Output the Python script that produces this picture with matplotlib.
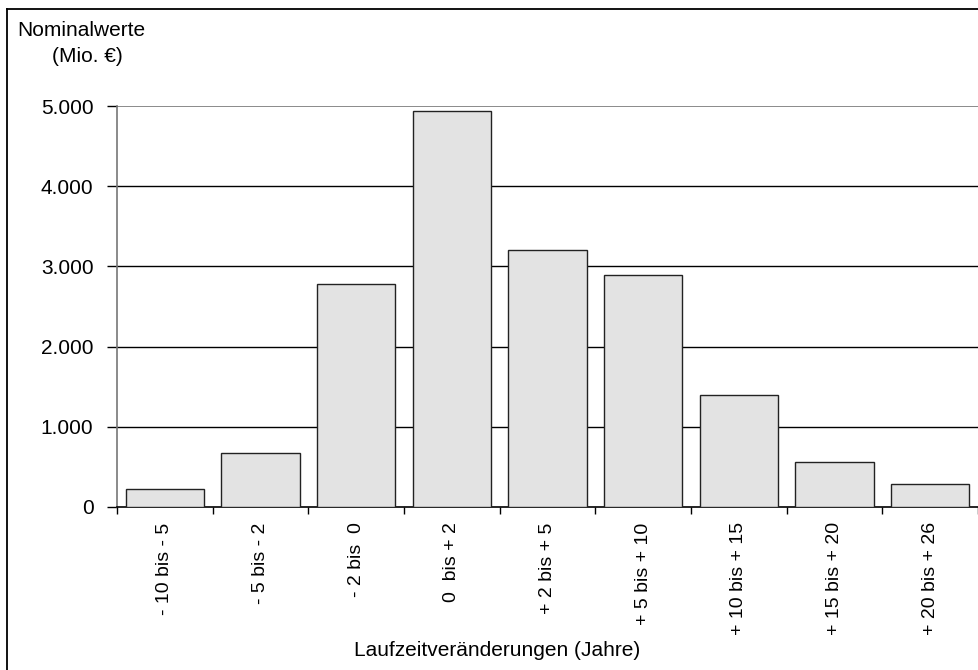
import numpy as np
import matplotlib
matplotlib.use("Agg")
import matplotlib.pyplot as plt
from matplotlib.lines import Line2D
from matplotlib.ticker import FuncFormatter

plt.rcParams['font.family'] = ['Liberation Sans', 'DejaVu Sans']

# Nominal values (Mio. EUR) per change in remaining term
categories = ["- 10 bis - 5", "- 5 bis - 2", "- 2 bis  0", "0  bis + 2", "+ 2 bis + 5",
              "+ 5 bis + 10", "+ 10 bis + 15", "+ 15 bis + 20", "+ 20 bis + 26"]
values = [220, 670, 2780, 4940, 3200, 2890, 1400, 555, 287]
yticks = [0, 1000, 2000, 3000, 4000, 5000]

W, H = 979, 670
fig = plt.figure(figsize=(W / 100, H / 100), dpi=100)
ax = fig.add_axes([117 / W, 1 - 507 / H, (978 - 117) / W, (507 - 106) / H])

x = np.arange(len(categories))
ax.bar(x, values, width=0.82, color='#e3e3e3', edgecolor='#222222', linewidth=1.0, zorder=3)

ax.set_xlim(-0.5, len(categories) - 0.5)
ax.set_ylim(0, 5000)

# horizontal gridlines; top one is the plot area border in grey
for v in yticks[1:-1]:
    ax.axhline(v, color='black', linewidth=1.0, zorder=1)
ax.axhline(yticks[-1], color='#777777', linewidth=1.2, zorder=1)

ax.set_yticks(yticks)
ax.yaxis.set_major_formatter(FuncFormatter(lambda v, p: f"{int(v):,}".replace(",", ".")))
ax.tick_params(axis='y', direction='out', length=7, width=1, pad=10, labelsize=15, colors='black')

ax.set_xticks(x)
ax.set_xticklabels(categories, rotation=90, fontsize=14)
ax.set_xticks(np.arange(len(categories) + 1) - 0.5, minor=True)
ax.tick_params(axis='x', which='major', length=0, pad=11)
ax.tick_params(axis='x', which='minor', direction='out', length=5, width=1)

for s in ['top', 'right']:
    ax.spines[s].set_visible(False)
ax.spines['left'].set_color('#777777')
ax.spines['left'].set_linewidth(1.2)
ax.spines['bottom'].set_color('black')
ax.spines['bottom'].set_linewidth(1.2)

fig.text(17 / W, 1 - 30 / H, "Nominalwerte", fontsize=15, ha='left', va='center')
fig.text(52 / W, 1 - 57 / H, "(Mio. €)", fontsize=15, ha='left', va='center')
fig.text(497 / W, 1 - 651 / H, "Laufzeitveränderungen (Jahre)", fontsize=15, ha='center', va='center')

# outer frame (left and top edges)
fig.add_artist(Line2D([7.5 / W, 7.5 / W], [0, 1 - 9 / H], color='black', linewidth=1.3))
fig.add_artist(Line2D([7.5 / W, 1], [1 - 9 / H, 1 - 9 / H], color='black', linewidth=1.3))

fig.savefig("out.png", dpi=100)
